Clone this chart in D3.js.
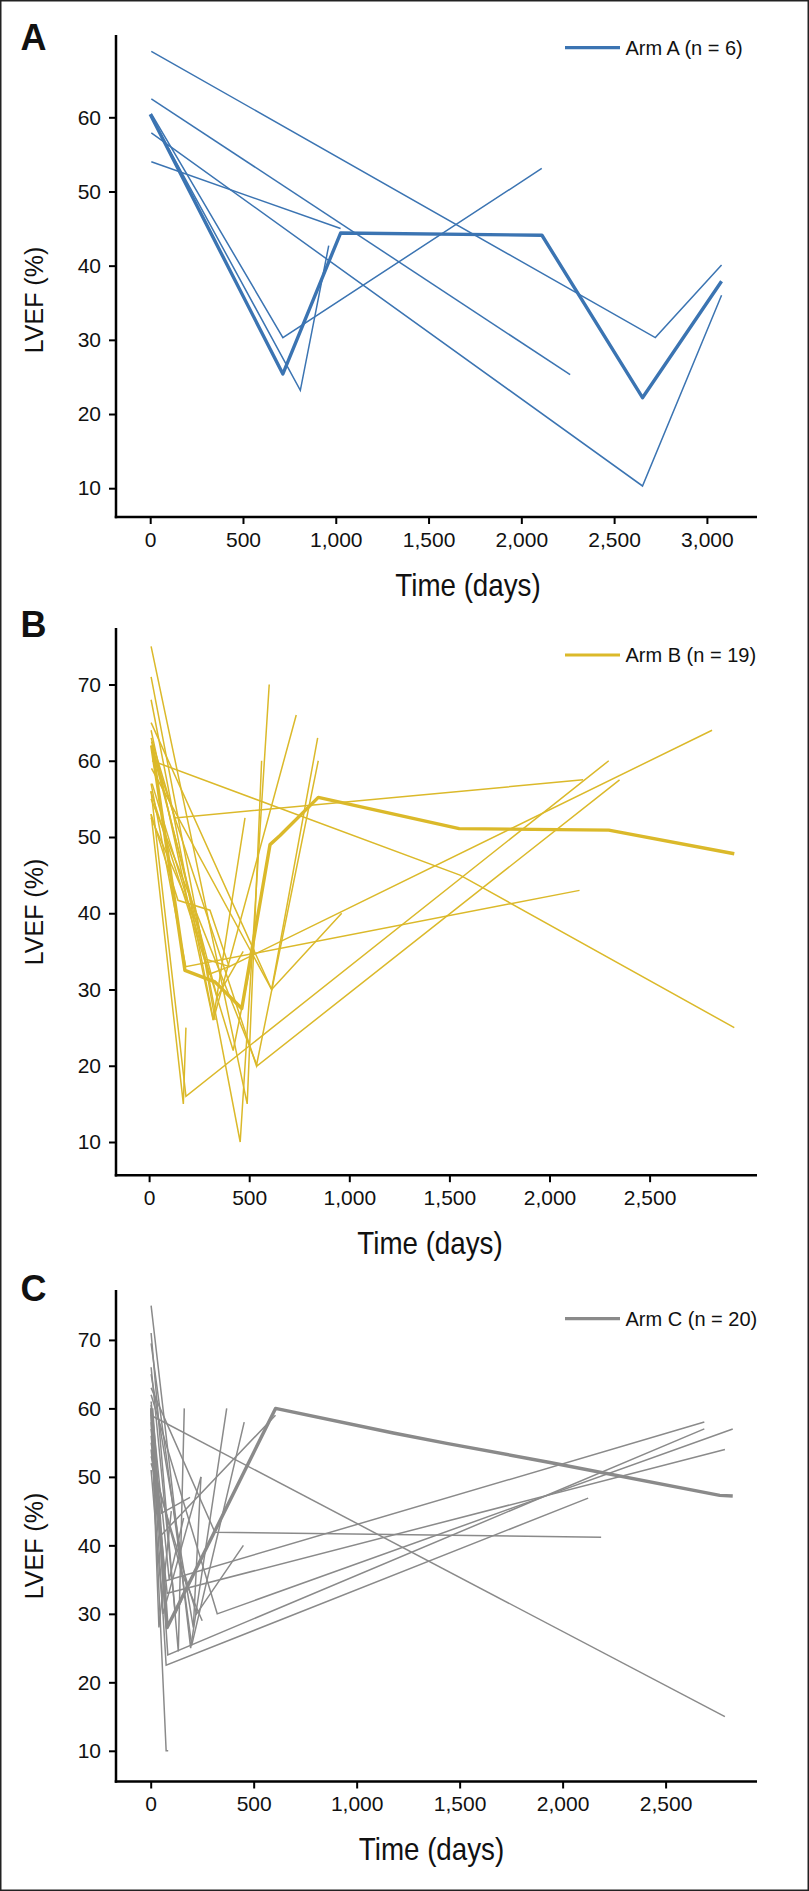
<!DOCTYPE html>
<html>
<head>
<meta charset="utf-8">
<script src="https://cdn.jsdelivr.net/npm/d3@7"></script>
<style>
  html, body { margin: 0; padding: 0; background: #fff; }
  svg { display: block; }
  text { font-family: "Liberation Sans", Arial, Helvetica, sans-serif; }
</style>
</head>
<body>
<svg id="chart" width="809" height="1891"></svg>
<script>
// ---------------- DATA ----------------
// Each patient: list of [day, LVEF %]
const armLabels = ["Arm A (n = 6)", "Arm B (n = 19)", "Arm C (n = 20)"];
const panelLetters = ["A", "B", "C"];

const armAThick = [[0,60.4],[715,25.4],[1026,44.4],[2111,44.1],[2653,22.2],[3079,37.9]];
const armAPatients = [
  [[6,68.9],[2722,30.3],[3079,40.1]],
  [[6,62.5],[2263,25.3]],
  [[6,57.9],[2653,10.3],[3079,36.0]],
  [[6,54.0],[1026,45.0]],
  [[6,60.5],[715,30.3],[2110,53.1]],
  [[6,60.1],[809,23.2],[962,42.7]]
];

const armBThick = [[13,62.0],[179,32.5],[329,31.0],[463,27.5],[604,49.0],[654,50.2],[845,55.2],[1549,51.1],[2296,50.9],[2923,47.8]];
const armBPatients = [
  [[10,75],[490,15],[562,60]],
  [[10,71],[455,10],[600,70]],
  [[10,68],[321,26],[735,66]],
  [[10,65],[612,30],[842,63]],
  [[12,59],[612,30],[962,40]],
  [[15,60],[1553,45],[2923,25]],
  [[10,63],[129,52.5],[2168,57.5]],
  [[10,53],[171,15],[184,25]],
  [[10,56],[184,16],[2296,60]],
  [[10,62],[536,20],[845,60]],
  [[10,55],[540,20],[2350,57.5]],
  [[10,57],[183,33],[2150,43]],
  [[10,53],[144,41.7],[304,40.4],[400,33],[2812,64]],
  [[10,64],[320,26],[479,52.5]],
  [[20,61],[340,29],[470,35]],
  [[8,56],[300,32],[400,33]],
  [[15,57],[420,22],[520,35]],
  [[10,52.5],[250,38],[330,26]],
  [[12,62.5],[280,34],[402,33]]
];

const armCThick = [[5,60],[80,28],[606,60],[1178,56.4],[1437,54.9],[1938,52.1],[2763,47.3],[2826,47.2]];
const armCPatients = [
  [[0,60],[75,10],[85,10]],
  [[2,75],[194,25],[369,60]],
  [[2,71],[134,24.5],[163,60]],
  [[2,69.5],[199,25.4],[454,58]],
  [[2,65],[207,28],[244,50]],
  [[2,63],[312,41.9],[2187,41.2]],
  [[0,59],[2788,15]],
  [[2,62],[323,30],[2826,57]],
  [[2,60.5],[83,24],[2688,57]],
  [[2,58],[75,22.5],[2124,46.9]],
  [[2,57],[70,34.8],[2688,58]],
  [[2,56],[80,33],[2788,54]],
  [[2,55],[53,44.7],[191,47]],
  [[2,54],[45,41.3],[606,59]],
  [[2,52],[223,30],[450,40]],
  [[2,51],[60,30],[244,50]],
  [[2,61],[90,35],[160,44]],
  [[2,66],[120,30],[150,32]],
  [[2,53],[150,36],[250,29]],
  [[2,60],[40,28],[100,45]]
];

const xTicksA = [0,500,1000,1500,2000,2500,3000];
const xTicksBC = [0,500,1000,1500,2000,2500];
const yTicksA = [10,20,30,40,50,60];
const yTicksBC = [10,20,30,40,50,60,70];

// ---------------- LAYOUT ----------------
const colors = ["#3b74b2", "#dbb92a", "#8a8a8a"];
const panels = [
  { thick: armAThick, thin: armAPatients, xTicks: xTicksA, yTicks: yTicksA,
    xDom: [0,3000], xRange: [150.2,706.9], yDom: [10,60], yRange: [488.2,117.3],
    axisTop: 35, axisY: 517, letterY: 50, legendY: 47.7, titleX: 468, ylabY: 300 },
  { thick: armBThick, thin: armBPatients, xTicks: xTicksBC, yTicks: yTicksBC,
    xDom: [0,2500], xRange: [149.1,649.6], yDom: [10,70], yRange: [1142,684.5],
    axisTop: 628, axisY: 1175.2, letterY: 636.5, legendY: 655, titleX: 430, ylabY: 912 },
  { thick: armCThick, thin: armCPatients, xTicks: xTicksBC, yTicks: yTicksBC,
    xDom: [0,2500], xRange: [150.7,665.6], yDom: [10,70], yRange: [1750.8,1339.9],
    axisTop: 1290, axisY: 1781.5, letterY: 1301, legendY: 1318.7, titleX: 431.5, ylabY: 1546 }
];

const svg = d3.select("#chart");
svg.append("rect").attr("x", 0.75).attr("y", 0.75).attr("width", 807.5).attr("height", 1889.5)
  .attr("fill", "#fff").attr("stroke", "#222").attr("stroke-width", 1.5);

const axisX0 = 116, axisX1 = 757;

panels.forEach((p, i) => {
  const x = d3.scaleLinear().domain(p.xDom).range(p.xRange);
  const y = d3.scaleLinear().domain(p.yDom).range(p.yRange);
  const g = svg.append("g");
  const line = d3.line().x(d => x(d[0])).y(d => y(d[1]));

  // thin patient lines
  g.append("g").selectAll("path").data(p.thin).join("path")
    .attr("d", line).attr("fill", "none").attr("stroke", colors[i])
    .attr("stroke-width", 1.5).attr("stroke-linejoin", "miter");
  // thick line
  g.append("path").datum(p.thick).attr("d", line).attr("fill", "none")
    .attr("stroke", colors[i]).attr("stroke-width", 3.4).attr("stroke-linejoin", "round");

  // axes
  const xa = g.append("g").attr("transform", `translate(0,${p.axisY})`)
    .call(d3.axisBottom(x).tickValues(p.xTicks).tickFormat(d3.format(",")).tickSize(7).tickPadding(8).tickSizeOuter(0));
  const ya = g.append("g").attr("transform", `translate(${axisX0},0)`)
    .call(d3.axisLeft(y).tickValues(p.yTicks).tickFormat(d3.format("d")).tickSize(7).tickPadding(8).tickSizeOuter(0));
  [xa, ya].forEach(a => {
    a.select(".domain").remove();
    a.selectAll(".tick line").attr("stroke", "#000").attr("stroke-width", 2);
    a.selectAll(".tick text").attr("font-size", 21).attr("fill", "#111")
      .style("font-family", "'Liberation Sans', Arial, sans-serif");
  });
  g.append("line").attr("x1", axisX0).attr("x2", axisX0).attr("y1", p.axisTop).attr("y2", p.axisY + 1.25)
    .attr("stroke", "#000").attr("stroke-width", 2.5);
  g.append("line").attr("x1", axisX0 - 1.25).attr("x2", axisX1).attr("y1", p.axisY).attr("y2", p.axisY)
    .attr("stroke", "#000").attr("stroke-width", 2.5);

  // titles (slightly condensed like the original typeface)
  g.append("text").attr("transform", `translate(${p.titleX},${p.axisY + 78.5}) scale(0.91,1)`)
    .attr("text-anchor", "middle").attr("font-size", 30.5).attr("fill", "#111").text("Time (days)");
  g.append("text").attr("transform", `translate(42.5,${p.ylabY}) rotate(-90)`)
    .attr("text-anchor", "middle").attr("font-size", 25).attr("fill", "#111").text("LVEF (%)");
  g.append("text").attr("x", 20.5).attr("y", p.letterY).attr("font-size", 36)
    .attr("font-weight", "bold").attr("fill", "#111").text(panelLetters[i]);

  // legend
  g.append("line").attr("x1", 565).attr("x2", 620).attr("y1", p.legendY).attr("y2", p.legendY)
    .attr("stroke", colors[i]).attr("stroke-width", 3.2);
  g.append("text").attr("x", 625.5).attr("y", p.legendY + 7.2).attr("font-size", 20)
    .attr("fill", "#111").text(armLabels[i]);
});
</script>
</body>
</html>
